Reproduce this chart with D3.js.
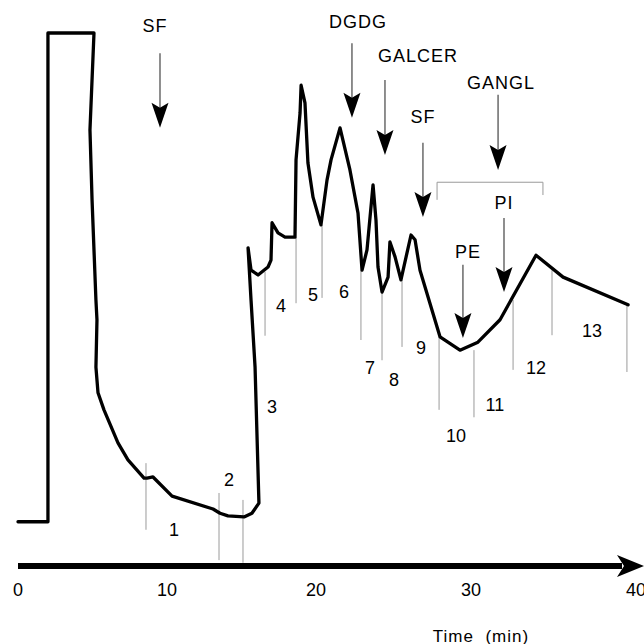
<!DOCTYPE html>
<html>
<head>
<meta charset="utf-8">
<script src="https://cdn.jsdelivr.net/npm/d3@7"></script>
<style>
	body { margin: 0; background: #fff; }
	svg { display: block; }
	text { font-family: "Liberation Sans", Arial, Helvetica, sans-serif; fill: #000; }
</style>
</head>
<body>
<div id="chart"></div>
<script>

// detector trace: time (min), signal (arbitrary, 0..100)
var traceT = [0, 2.01, 2.01, 5.10, 4.83, 4.97, 5.23, 5.30, 5.23, 5.37, 5.77, 6.71, 7.38, 8.46, 8.66, 9.06,
	10.34, 13.09, 13.56, 14.09, 15.17, 15.70, 16.17, 15.91, 15.64, 15.44, 15.64, 16.11, 16.78, 16.98,
	17.05, 17.45, 17.92, 18.59, 18.66, 18.93, 19.00, 19.26, 19.46, 19.80, 20.32, 20.71, 20.97, 21.55,
	22.19, 22.71, 22.97, 23.29, 23.68, 23.87, 24.00, 24.26, 24.65, 24.77, 25.10, 25.48, 26.13, 26.39,
	26.71, 27.35, 28.00, 29.29, 30.42, 31.76, 33.94, 35.58, 39.52];
var traceV = [8.3, 8.3, 100, 100, 81.8, 68.7, 49.9, 46.2, 37.3, 32.5, 29.3, 23.1, 19.9, 16.5, 16.5, 16.7,
	13.1, 10.7, 9.9, 9.4, 9.2, 9.9, 11.8, 37.3, 49.9, 59.7, 55.5, 54.6, 56.1, 57.4,
	64.4, 62.5, 61.7, 61.7, 76.2, 85.0, 90.2, 86.9, 75.6, 69.2, 64.0, 72.4, 76.2, 82.2,
	74.3, 66.2, 55.5, 59.3, 71.5, 64.9, 56.1, 51.4, 54.2, 60.8, 58.0, 53.7, 62.1, 61.2,
	55.5, 49.3, 43.0, 40.5, 42.0, 46.2, 58.3, 54.2, 49.0];

// fraction cut marks: time, top, bottom
var cutT   = [8.59, 13.49, 15.10, 16.58, 18.66, 20.39, 22.90, 24.26, 25.55, 27.94, 30.18, 32.55, 34.91, 39.45];
var cutTop = [19.3, 13.7, 12.4, 55.2, 61.7, 64.0, 55.5, 51.4, 53.7, 43.0, 40.5, 49.9, 55.5, 49.0];
var cutBot = [6.8, 1.1, 0.6, 43.2, 49.3, 50.3, 42.4, 38.6, 41.1, 29.3, 27.9, 36.8, 43.3, 36.4];

// fraction numbers
var fracNum = ["1", "2", "3", "4", "5", "6", "7", "8", "9", "10", "11", "12", "13"];
var fracT   = [10.47, 14.16, 17.05, 17.65, 19.80, 21.81, 23.48, 25.03, 26.77, 29.03, 31.45, 33.94, 37.33];
var fracV   = [6.8, 16.1, 29.8, 48.8, 50.8, 51.4, 37.1, 34.9, 40.9, 24.4, 30.2, 37.1, 44.1];

// lipid class arrows
var arrName  = ["SF", "DGDG", "GALCER", "SF", "GANGL", "PE", "PI"];
var arrT     = [9.53, 22.32, 24.45, 26.90, 31.64, 29.48, 32.00];
var arrLblT  = [9.19, 22.71, 26.58, 26.90, 31.82, 29.81, 32.00];
var arrLblV  = [101.3, 102.0, 95.7, 84.2, 90.6, 58.9, 68.1];
var arrTopV  = [96.2, 98.1, 91.2, 79.4, 88.4, 56.5, 65.3];
var arrTipV  = [82.2, 84.1, 77.1, 65.5, 74.3, 42.8, 51.4];

// bracket over gangliosides
var brT = [27.81, 34.36];
var brV = [72.0, 68.7, 69.6];	// level, left foot, right foot

var xTicks = [0, 10, 20, 30, 40];

var W = 644, H = 644;

var svg = d3.select("#chart").append("svg")
	.attr("width", W)
	.attr("height", H);

// hand-drawn axis: labels are not quite evenly spaced
var x = d3.scaleLinear().domain([0, 20, 30, 40]).range([18, 316, 471, 636]);
var y = d3.scaleLinear().domain([0, 100]).range([566, 33]);

// cut marks
svg.append("g")
	.selectAll("line")
	.data(cutT)
	.join("line")
		.attr("x1", d => x(d)).attr("x2", d => x(d))
		.attr("y1", (d, i) => y(cutTop[i]))
		.attr("y2", (d, i) => y(cutBot[i]))
		.attr("stroke", "#9a9a9a")
		.attr("stroke-width", 1);

// bracket
svg.append("path")
	.attr("d", d3.line()([
		[x(brT[0]), y(brV[1])], [x(brT[0]), y(brV[0])],
		[x(brT[1]), y(brV[0])], [x(brT[1]), y(brV[2])]
	]))
	.attr("fill", "none")
	.attr("stroke", "#9a9a9a")
	.attr("stroke-width", 1);

// trace
var pts = traceT.map((t, i) => [t, traceV[i]]);
svg.append("path")
	.datum(pts)
	.attr("d", d3.line().x(d => x(d[0])).y(d => y(d[1])))
	.attr("fill", "none")
	.attr("stroke", "#000")
	.attr("stroke-width", 3.3)
	.attr("stroke-linejoin", "round")
	.attr("stroke-linecap", "round");

// fraction numbers
svg.append("g")
	.selectAll("text")
	.data(fracNum)
	.join("text")
		.attr("x", (d, i) => x(fracT[i]))
		.attr("y", (d, i) => y(fracV[i]))
		.attr("text-anchor", "middle")
		.attr("dominant-baseline", "central")
		.attr("font-size", 18)
		.text(d => d);

// arrows
var ag = svg.append("g")
	.selectAll("g")
	.data(arrName)
	.join("g");

ag.append("line")
	.attr("x1", (d, i) => x(arrT[i])).attr("x2", (d, i) => x(arrT[i]))
	.attr("y1", (d, i) => y(arrTopV[i]))
	.attr("y2", (d, i) => y(arrTipV[i]) - 10)
	.attr("stroke", "#444")
	.attr("stroke-width", 1.2);

ag.append("path")
	.attr("d", (d, i) => {
		var cx = x(arrT[i]), ty = y(arrTipV[i]);
		return `M${cx},${ty} L${cx - 8.5},${ty - 25} L${cx},${ty - 20} L${cx + 8.5},${ty - 25} Z`;
	})
	.attr("fill", "#000");

ag.append("text")
	.attr("x", (d, i) => x(arrLblT[i]))
	.attr("y", (d, i) => y(arrLblV[i]))
	.attr("text-anchor", "middle")
	.attr("dominant-baseline", "central")
	.attr("font-size", 18)
	.attr("letter-spacing", 1)
	.text(d => d);

// time axis with arrow
var ay = y(0);
svg.append("line")
	.attr("x1", x(0)).attr("x2", x(40) - 14)
	.attr("y1", ay).attr("y2", ay)
	.attr("stroke", "#000")
	.attr("stroke-width", 6);

svg.append("path")
	.attr("d", `M${x(40) + 8},${ay} L${x(40) - 19},${ay - 11} L${x(40) - 12},${ay} L${x(40) - 19},${ay + 11} Z`)
	.attr("fill", "#000");

svg.append("g")
	.selectAll("text")
	.data(xTicks)
	.join("text")
		.attr("x", d => x(d))
		.attr("y", ay + 24)
		.attr("text-anchor", "middle")
		.attr("dominant-baseline", "central")
		.attr("font-size", 18)
		.text(d => d);

svg.append("text")
	.attr("x", 481)
	.attr("y", 636)
	.attr("text-anchor", "middle")
	.attr("dominant-baseline", "central")
	.attr("font-size", 17)
	.attr("letter-spacing", 1)
	.attr("xml:space", "preserve")
	.style("white-space", "pre")
	.text("Time  (min)");

</script>
</body>
</html>
